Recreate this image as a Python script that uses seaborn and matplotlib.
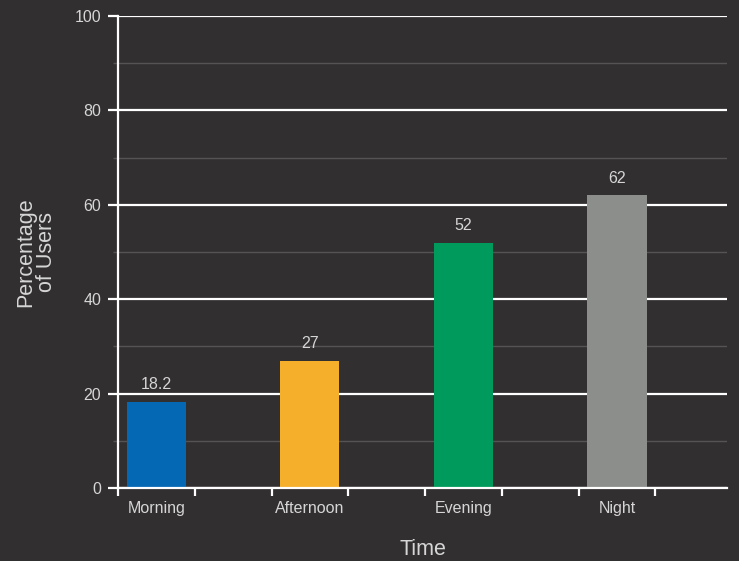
import matplotlib
matplotlib.use("Agg")
import matplotlib.pyplot as plt
import seaborn as sns
import pandas as pd
from matplotlib.ticker import MultipleLocator, FixedLocator, NullFormatter

categories = ["Morning", "Afternoon", "Evening", "Night"]
values = [18.2, 27, 52, 62]
colors = ["#0468b4", "#f5af2a", "#009b5c", "#8c8e8c"]
y_ticks = [0, 20, 40, 60, 80, 100]

bg = "#312f2f"
fg = "#d6d6d6"

sns.set_theme(style="dark")
plt.rcParams["font.family"] = ["Liberation Sans", "DejaVu Sans"]

df = pd.DataFrame({"Time": categories, "Users": values})

fig = plt.figure(figsize=(7.39, 5.61), dpi=100, facecolor=bg)
ax = fig.add_axes([0.1597, 0.1301, 0.8241, 0.8414])
ax.set_facecolor(bg)

sns.barplot(data=df, x="Time", y="Users", hue="Time", order=categories,
            palette=colors, legend=False, width=0.385, saturation=1,
            linewidth=0, ax=ax)

for i, v in enumerate(values):
    ax.annotate(f"{v:g}", (i, v), xytext=(0, 7), textcoords="offset points",
                ha="center", va="bottom", color=fg, fontsize=11.5)

ax.set_xlim(-0.25, 3.717)
ax.set_ylim(0, 100)

# y axis: white major grid, grey minor grid
ax.yaxis.set_major_locator(FixedLocator(y_ticks))
ax.yaxis.set_minor_locator(MultipleLocator(10))
ax.grid(False)
ax.grid(axis="y", which="major", color="white", linewidth=1.6)
ax.grid(axis="y", which="minor", color="#555353", linewidth=1)
ax.tick_params(axis="y", which="major", length=7, width=1.6, color="white",
               labelcolor=fg, labelsize=11.5, pad=5, left=True)
ax.tick_params(axis="y", which="minor", length=3.5, width=1, color="#555353", left=True)

# x axis: category labels at centres, tick marks at band edges
ax.set_xticks(range(len(categories)))
ax.set_xticklabels(categories)
edges = [i + d for i in range(len(categories)) for d in (-0.25, 0.25)]
ax.xaxis.set_minor_locator(FixedLocator(edges))
ax.xaxis.set_minor_formatter(NullFormatter())
ax.tick_params(axis="x", which="major", length=0, labelcolor=fg,
               labelsize=11.5, pad=9)
ax.tick_params(axis="x", which="minor", length=6, width=1.6, color="white",
               bottom=True)

for side in ("top", "right"):
    ax.spines[side].set_visible(False)
for side in ("left", "bottom"):
    ax.spines[side].set_color("white")
    ax.spines[side].set_linewidth(1.6)
ax.set_axisbelow(True)

ax.set_xlabel("Time", color=fg, fontsize=15.5, labelpad=17)
ax.set_ylabel("Percentage\nof Users", color=fg, fontsize=15.5, labelpad=13,
              linespacing=0.95)

fig.savefig("out.png", dpi=100, facecolor=bg)
